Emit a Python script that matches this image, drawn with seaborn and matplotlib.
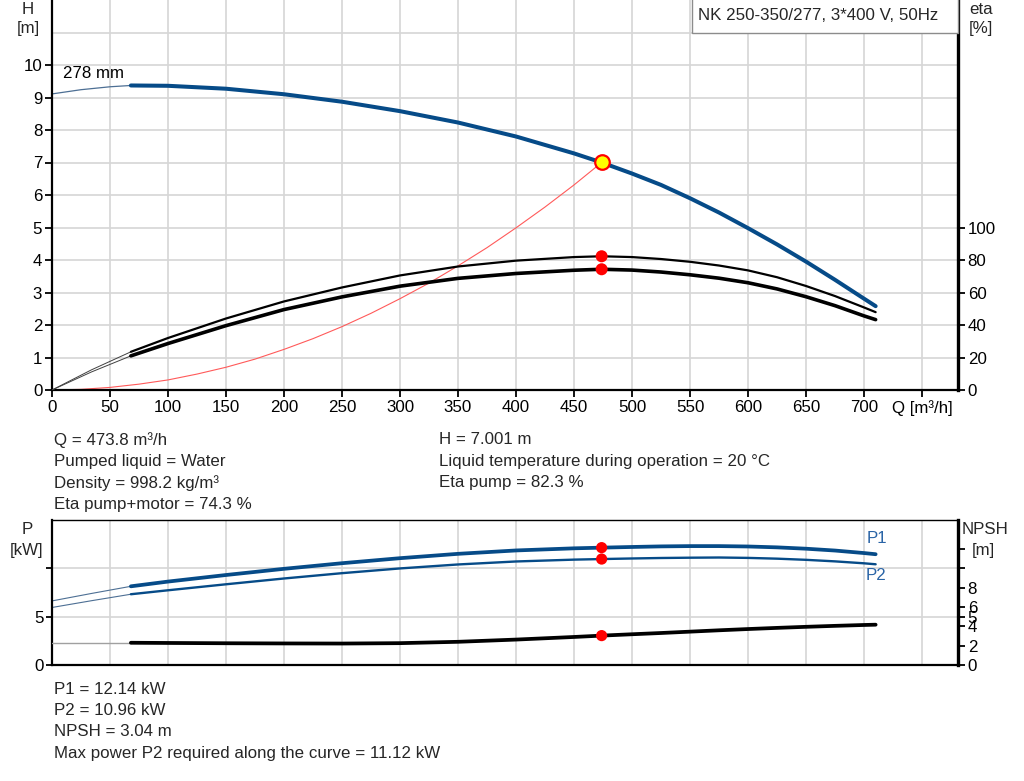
import matplotlib
matplotlib.use("Agg")
import matplotlib.pyplot as plt
import seaborn as sns
from matplotlib.patches import Rectangle

# ---------------- data ----------------
q_h_thin = [0, 25, 50, 68]
h_thin = [9.11, 9.24, 9.33, 9.37]

q_curve = [68, 100, 150, 200, 250, 300, 350, 400, 450, 473.8, 500, 525, 550, 575,
           600, 625, 650, 675, 700, 710]
h_curve = [9.37, 9.36, 9.27, 9.10, 8.87, 8.58, 8.23, 7.80, 7.28, 7.00, 6.66, 6.31,
           5.90, 5.46, 4.98, 4.48, 3.95, 3.39, 2.81, 2.58]
eta_pump = [23.5, 32.0, 44.0, 54.5, 63.1, 70.5, 76.0, 79.6, 81.8, 82.3, 81.8, 80.6,
            78.9, 76.6, 73.6, 69.4, 64.0, 57.8, 50.8, 47.9]
eta_total = [21.0, 28.6, 39.6, 49.5, 57.3, 63.9, 68.7, 71.7, 73.7, 74.3, 73.8, 72.6,
             70.9, 68.8, 66.0, 62.2, 57.4, 51.9, 45.6, 43.3]

q_eta_thin = [0, 34, 68]
eta_pump_thin = [0, 12.4, 23.5]
eta_total_thin = [0, 11.1, 21.0]

q_sys = [0, 25, 50, 75, 100, 125, 150, 175, 200, 225, 250, 275, 300, 325, 350, 375,
         400, 425, 450, 473.8]
h_sys = [0, 0.02, 0.08, 0.18, 0.31, 0.49, 0.70, 0.95, 1.25, 1.58, 1.95, 2.36, 2.81,
         3.29, 3.82, 4.38, 4.99, 5.63, 6.31, 7.00]

q_p_thin = [0, 34, 68]
p1_thin = [6.63, 7.40, 8.14]
p2_thin = [5.95, 6.65, 7.32]
npsh_thin = [2.30, 2.30, 2.30]

p1 = [8.14, 8.63, 9.31, 9.95, 10.53, 11.05, 11.50, 11.85, 12.07, 12.14, 12.21, 12.27,
      12.30, 12.30, 12.26, 12.17, 12.03, 11.84, 11.58, 11.46]
p2 = [7.32, 7.73, 8.35, 8.95, 9.50, 9.99, 10.40, 10.71, 10.90, 10.96, 11.02, 11.07,
      11.10, 11.12, 11.08, 11.00, 10.88, 10.72, 10.52, 10.42]
npsh = [2.30, 2.28, 2.25, 2.23, 2.22, 2.26, 2.40, 2.63, 2.90, 3.04, 3.18, 3.31,
        3.45, 3.59, 3.72, 3.84, 3.95, 4.05, 4.14, 4.17]

q_op = 473.8
h_op = 7.001
eta_pump_op = 82.3
eta_total_op = 74.3
p1_op = 12.14
p2_op = 10.96
npsh_op = 3.04

q_ticks = [0, 50, 100, 150, 200, 250, 300, 350, 400, 450, 500, 550, 600, 650, 700, 750]
q_tick_labels = ["0", "50", "100", "150", "200", "250", "300", "350", "400", "450",
                 "500", "550", "600", "650", "700", "Q [m³/h]"]
h_ticks = [0, 1, 2, 3, 4, 5, 6, 7, 8, 9, 10]
eta_ticks = [0, 20, 40, 60, 80, 100]
p_ticks = [0, 5, 10]
p_tick_labels = ["0", "5", ""]
npsh_ticks = [0, 2, 4, 5, 6, 8, 10, 12]
npsh_tick_labels = ["0", "2", "4", "5", "6", "8", "", ""]

title_text = "NK 250-350/277, 3*400 V, 50Hz"
info_left = ["Q = 473.8 m³/h", "Pumped liquid = Water", "Density = 998.2 kg/m³",
             "Eta pump+motor = 74.3 %"]
info_right = ["H = 7.001 m", "Liquid temperature during operation = 20 °C",
              "Eta pump = 82.3 %"]
info_bottom = ["P1 = 12.14 kW", "P2 = 10.96 kW", "NPSH = 3.04 m",
               "Max power P2 required along the curve = 11.12 kW"]

# ---------------- style ----------------
sns.set_theme(style="white")
plt.rcParams["font.family"] = ["Liberation Sans", "DejaVu Sans"]
plt.rcParams["font.size"] = 12.2
plt.rcParams["lines.solid_joinstyle"] = "round"
plt.rcParams["lines.solid_capstyle"] = "round"

BLUE = "#064b88"
THIN_BLUE = "#4d6f94"
GRID = "#d6d6d6"
FS = 12.2

W, H = 1024, 781
fig = plt.figure(figsize=(W / 100, H / 100), dpi=100)


def fx(px):
    return px / W


def fy(py):
    return 1 - py / H


XMAX = 781

# ---------------- top chart ----------------
ax = fig.add_axes([fx(52), fy(390), fx(958) - fx(52), fy(0) - fy(390)])
ax.set_xlim(0, XMAX)
ax.set_ylim(0, 12)
ax2 = ax.twinx()
ax2.set_ylim(0, 240)

ax.set_xticks(q_ticks)
ax.set_xticklabels(q_tick_labels)
ax.set_yticks(h_ticks)
ax.set_yticks([11], minor=True)
ax.grid(True, which="both", color=GRID, lw=1.2)
ax.set_axisbelow(True)
ax.tick_params(axis="both", which="major", direction="out", length=5, width=1.3,
               color="black", labelsize=FS, labelcolor="black", pad=2)
ax.tick_params(axis="y", which="minor", length=0)
ax.tick_params(axis="x", bottom=True)
ax.tick_params(axis="y", left=True)
for s in ["left", "bottom"]:
    ax.spines[s].set_color("black")
    ax.spines[s].set_linewidth(1.6)
ax.spines["top"].set_visible(False)
ax.spines["right"].set_visible(False)

ax2.set_yticks(eta_ticks)
ax2.tick_params(axis="y", direction="out", length=5, width=1.3, color="black",
                labelsize=FS, labelcolor="black", right=True, pad=2)
ax2.spines["right"].set_color("black")
ax2.spines["right"].set_linewidth(2.4)
for s in ["left", "bottom", "top"]:
    ax2.spines[s].set_visible(False)
ax2.grid(False)

# system curve
sns.lineplot(x=q_sys, y=h_sys, ax=ax, color="#ff5a5a", lw=0.8, sort=False, estimator=None)
# H curve
sns.lineplot(x=q_h_thin, y=h_thin, ax=ax, color=THIN_BLUE, lw=0.9, sort=False, estimator=None)
sns.lineplot(x=q_curve, y=h_curve, ax=ax, color=BLUE, lw=2.9, sort=False, estimator=None)
# eta curves
sns.lineplot(x=q_eta_thin, y=eta_pump_thin, ax=ax2, color="#404040", lw=0.7, sort=False, estimator=None)
sns.lineplot(x=q_eta_thin, y=eta_total_thin, ax=ax2, color="#404040", lw=0.7, sort=False, estimator=None)
sns.lineplot(x=q_curve, y=eta_pump, ax=ax2, color="black", lw=1.6, sort=False, estimator=None)
sns.lineplot(x=q_curve, y=eta_total, ax=ax2, color="black", lw=2.6, sort=False, estimator=None)
sns.scatterplot(x=[q_op, q_op], y=[eta_pump_op, eta_total_op], ax=ax2, color="#ff0000",
                s=75, edgecolor="none", zorder=5)
ax2.scatter([q_op], [h_op * 20], s=110, color="#ffff00", edgecolor="#ff0000",
            linewidth=1.6, zorder=6)

ax2.set_ylabel("")
ax.set_ylabel("")
ax.set_xlabel("")
ax.text(36, 9.75, "278 mm", fontsize=FS, ha="center", va="center", color="black")

# title box
fig.patches.append(Rectangle((fx(692), fy(33)), fx(958) - fx(692), fy(-2) - fy(33),
                             transform=fig.transFigure, facecolor="white",
                             edgecolor="#8c8c8c", lw=1.0, zorder=10))
fig.text(fx(698), fy(15), title_text, fontsize=FS, ha="left", va="center", zorder=11)

fig.text(fx(28), fy(9), "H", fontsize=FS, ha="center", va="center")
fig.text(fx(28), fy(29), "[m]", fontsize=FS, ha="center", va="center")
fig.text(fx(981), fy(9), "eta", fontsize=FS, ha="center", va="center")
fig.text(fx(981), fy(29), "[%]", fontsize=FS, ha="center", va="center")

# info text
for i, t in enumerate(info_left):
    fig.text(fx(54), fy(440 + i * 21.5), t, fontsize=FS, ha="left", va="center")
for i, t in enumerate(info_right):
    fig.text(fx(439), fy(440 + i * 21.5), t, fontsize=FS, ha="left", va="center")

# ---------------- bottom chart ----------------
bx = fig.add_axes([fx(52), fy(665), fx(958) - fx(52), fy(520) - fy(665)])
bx.set_xlim(0, XMAX)
bx.set_ylim(0, 15)
bx2 = bx.twinx()
bx2.set_ylim(0, 15)

bx.set_xticks(q_ticks)
bx.set_xticklabels([])
bx.set_yticks(p_ticks)
bx.set_yticklabels(p_tick_labels)
bx.grid(True, color=GRID, lw=1.2)
bx.set_axisbelow(True)
bx.tick_params(axis="y", direction="out", length=4, width=1.3, color="black",
               labelsize=FS, labelcolor="black", left=True, pad=2)
bx.tick_params(axis="x", length=0)
for s in ["left", "bottom"]:
    bx.spines[s].set_color("black")
    bx.spines[s].set_linewidth(1.6)
bx.spines["top"].set_color("black")
bx.spines["top"].set_linewidth(1.0)
bx.spines["right"].set_visible(False)

bx2.set_yticks(npsh_ticks)
bx2.set_yticklabels(npsh_tick_labels)
bx2.tick_params(axis="y", direction="out", length=5, width=1.3, color="black",
                labelsize=FS, labelcolor="black", right=True, pad=2)
bx2.spines["right"].set_color("black")
bx2.spines["right"].set_linewidth(2.4)
for s in ["left", "bottom", "top"]:
    bx2.spines[s].set_visible(False)
bx2.grid(False)

sns.lineplot(x=q_p_thin, y=p1_thin, ax=bx, color=THIN_BLUE, lw=0.8, sort=False, estimator=None)
sns.lineplot(x=q_p_thin, y=p2_thin, ax=bx, color=THIN_BLUE, lw=0.8, sort=False, estimator=None)
sns.lineplot(x=q_curve, y=p1, ax=bx, color=BLUE, lw=2.7, sort=False, estimator=None)
sns.lineplot(x=q_curve, y=p2, ax=bx, color=BLUE, lw=1.7, sort=False, estimator=None)
sns.lineplot(x=q_p_thin, y=npsh_thin, ax=bx2, color="#a0a0a0", lw=1.0, sort=False, estimator=None)
sns.lineplot(x=q_curve, y=npsh, ax=bx2, color="black", lw=2.7, sort=False, estimator=None)
sns.scatterplot(x=[q_op, q_op], y=[p1_op, p2_op], ax=bx, color="#ff0000", s=65,
                edgecolor="none", zorder=5)
sns.scatterplot(x=[q_op], y=[npsh_op], ax=bx2, color="#ff0000", s=65, edgecolor="none", zorder=5)
bx.set_ylabel("")
bx2.set_ylabel("")
bx.set_xlabel("")

bx.text(711, 13.1, "P1", fontsize=FS, ha="center", va="center", color="#2a64a6")
bx.text(710, 9.3, "P2", fontsize=FS, ha="center", va="center", color="#2a64a6")

fig.text(fx(27), fy(529), "P", fontsize=FS, ha="center", va="center")
fig.text(fx(27), fy(550), "[kW]", fontsize=FS, ha="center", va="center")
fig.text(fx(985), fy(529), "NPSH", fontsize=FS, ha="center", va="center")
fig.text(fx(983), fy(550), "[m]", fontsize=FS, ha="center", va="center")

for i, t in enumerate(info_bottom):
    fig.text(fx(54), fy(689 + i * 21.5), t, fontsize=FS, ha="left", va="center")

fig.savefig("out.png", dpi=100)
